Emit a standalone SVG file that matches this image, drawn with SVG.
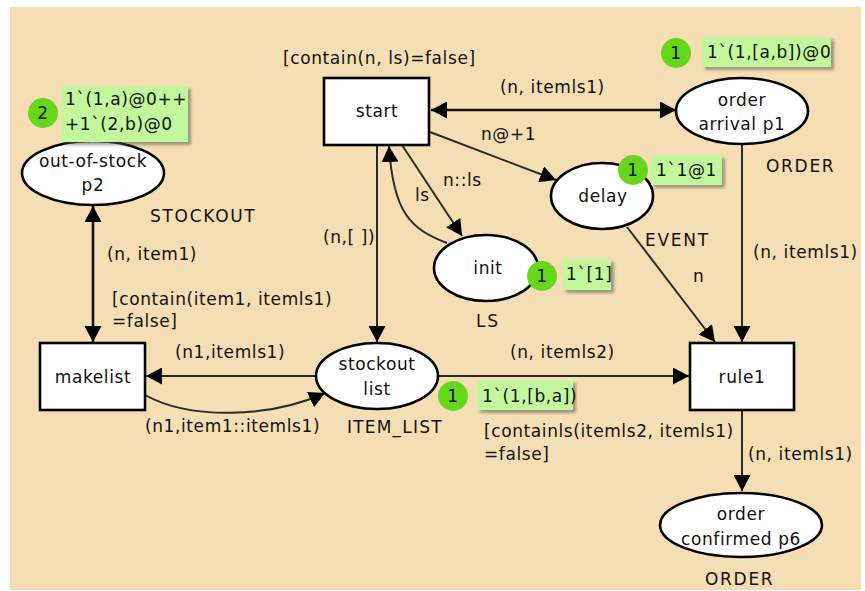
<svg xmlns="http://www.w3.org/2000/svg" width="865" height="591" viewBox="0 0 865 591">
  <style>
    text { font-family: "DejaVu Sans", Verdana, sans-serif; font-size: 17px; letter-spacing: 0.6px; fill: #111; }
    .mid { text-anchor: middle; }
    .cs { letter-spacing: 1.7px; }
    .place { fill: #fff; stroke: #000; stroke-width: 2.6; }
    .trans { fill: #fff; stroke: #000; stroke-width: 2.6; }
    .arc { fill: none; stroke: #2a2a2a; stroke-width: 2; }
    .arc2 { fill: none; stroke: #111; stroke-width: 2.6; }
    .count { fill: #66d81c; stroke: none; }
    .mark { fill: #c2f79c; stroke: none; filter: url(#shadow); }
  </style>
  <defs>
    <marker id="head" markerUnits="userSpaceOnUse" markerWidth="17" markerHeight="17" refX="16" refY="8.5" orient="auto-start-reverse">
      <path d="M0,0 L16,8.5 L0,17 z" fill="#000"/>
    </marker>
    <filter id="shadow" x="-10%" y="-20%" width="130%" height="160%">
      <feDropShadow dx="3" dy="3" stdDeviation="1.5" flood-color="#555" flood-opacity="0.55"/>
    </filter>
  </defs>

  <!-- page -->
  <rect x="0" y="0" width="865" height="591" fill="#fff"/>
  <rect x="10" y="7" width="851" height="583" fill="#f5deb3"/>

  <!-- arcs -->
  <g id="arcs">
    <line class="arc2" x1="431" y1="110" x2="676" y2="110" marker-start="url(#head)" marker-end="url(#head)"/>
    <line class="arc" x1="430" y1="132" x2="556" y2="180" marker-end="url(#head)"/>
    <line class="arc" x1="402" y1="145" x2="462" y2="236" marker-end="url(#head)"/>
    <path class="arc" d="M447,243 C410,229 393,212 389,146" marker-end="url(#head)"/>
    <line class="arc" x1="377" y1="145" x2="377" y2="342" marker-end="url(#head)"/>
    <line class="arc" x1="742" y1="144" x2="742" y2="342" marker-end="url(#head)"/>
    <line class="arc" x1="627" y1="227" x2="715" y2="342" marker-end="url(#head)"/>
    <line class="arc" x1="437" y1="376" x2="689" y2="376" marker-end="url(#head)"/>
    <line class="arc" x1="316" y1="376" x2="146" y2="376" marker-end="url(#head)"/>
    <path class="arc" d="M145,395 C190,420 270,418 325,393" marker-end="url(#head)"/>
    <line class="arc2" x1="93" y1="206" x2="93" y2="342" marker-start="url(#head)" marker-end="url(#head)"/>
    <line class="arc" x1="742" y1="410" x2="742" y2="491" marker-end="url(#head)"/>
  </g>

  <!-- arc inscriptions and guards -->
  <g id="inscriptions">
    <text x="283" y="64">[contain(n, ls)=false]</text>
    <text x="500" y="93">(n, itemls1)</text>
    <text x="481" y="140">n@+1</text>
    <text x="443" y="186">n::ls</text>
    <text x="415" y="201">ls</text>
    <text x="323" y="243">(n,[ ])</text>
    <text x="753" y="258">(n, itemls1)</text>
    <text x="693" y="282">n</text>
    <text x="510" y="358">(n, itemls2)</text>
    <text x="107" y="260">(n, item1)</text>
    <text x="112" y="305">[contain(item1, itemls1)</text>
    <text x="112" y="327">=false]</text>
    <text x="175" y="358">(n1,itemls1)</text>
    <text x="145" y="432">(n1,item1::itemls1)</text>
    <text x="484" y="437">[containls(itemls2, itemls1)</text>
    <text x="484" y="460">=false]</text>
    <text x="748" y="460">(n, itemls1)</text>
  </g>

  <!-- transitions -->
  <g id="start">
    <rect class="trans" x="324" y="78" width="105" height="67"/>
    <text class="mid" x="377" y="117">start</text>
  </g>
  <g id="makelist">
    <rect class="trans" x="40" y="343" width="105" height="67"/>
    <text class="mid" x="93" y="383">makelist</text>
  </g>
  <g id="rule1">
    <rect class="trans" x="690" y="343" width="104" height="67"/>
    <text class="mid" x="742" y="383">rule1</text>
  </g>

  <!-- places -->
  <g id="order-arrival-p1">
    <ellipse class="place" cx="742" cy="111" rx="66" ry="33"/>
    <text class="mid" x="742" y="106">order</text>
    <text class="mid" x="742" y="130">arrival p1</text>
    <text class="cs" x="766" y="172">ORDER</text>
  </g>
  <g id="delay">
    <ellipse class="place" cx="602" cy="196" rx="51" ry="33"/>
    <text class="mid" x="603" y="202">delay</text>
    <text class="cs" x="645" y="246">EVENT</text>
  </g>
  <g id="init">
    <ellipse class="place" cx="486" cy="268" rx="52" ry="33"/>
    <text class="mid" x="488" y="274">init</text>
    <text class="cs" x="476" y="327">LS</text>
  </g>
  <g id="stockout-list">
    <ellipse class="place" cx="377" cy="376" rx="61" ry="33"/>
    <text class="mid" x="377" y="370">stockout</text>
    <text class="mid" x="377" y="395">list</text>
    <text x="347" y="433" style="letter-spacing:1.2px">ITEM_LIST</text>
  </g>
  <g id="out-of-stock-p2">
    <ellipse class="place" cx="93" cy="173" rx="71" ry="32"/>
    <text class="mid" x="93" y="167">out-of-stock</text>
    <text class="mid" x="93" y="191">p2</text>
    <text class="cs" x="150" y="222">STOCKOUT</text>
  </g>
  <g id="order-confirmed-p6">
    <ellipse class="place" cx="741" cy="525" rx="81" ry="32"/>
    <text class="mid" x="741" y="520">order</text>
    <text class="mid" x="741" y="545">confirmed p6</text>
    <text class="cs" x="705" y="585">ORDER</text>
  </g>

  <!-- current markings -->
  <g id="marking-p2">
    <rect class="mark" x="61" y="86" width="127" height="56"/>
    <text x="65" y="105">1`(1,a)@0++</text>
    <text x="65" y="130">+1`(2,b)@0</text>
    <circle class="count" cx="43" cy="113" r="15"/>
    <text class="mid" x="43" y="119">2</text>
  </g>
  <g id="marking-p1">
    <rect class="mark" x="702" y="37" width="129" height="30"/>
    <text x="707" y="58">1`(1,[a,b])@0</text>
    <circle class="count" cx="676" cy="53" r="15"/>
    <text class="mid" x="676" y="59">1</text>
  </g>
  <g id="marking-delay">
    <rect class="mark" x="651" y="155" width="71" height="30"/>
    <text x="656" y="176">1`1@1</text>
    <circle class="count" cx="633" cy="170" r="15"/>
    <text class="mid" x="633" y="176">1</text>
  </g>
  <g id="marking-init">
    <rect class="mark" x="563" y="259" width="48" height="31"/>
    <text x="566" y="280">1`[1]</text>
    <circle class="count" cx="542" cy="276" r="15"/>
    <text class="mid" x="542" y="282">1</text>
  </g>
  <g id="marking-stockout">
    <rect class="mark" x="477" y="380" width="96" height="30"/>
    <text x="482" y="402">1`(1,[b,a])</text>
    <circle class="count" cx="453" cy="396" r="15"/>
    <text class="mid" x="453" y="402">1</text>
  </g>
</svg>
